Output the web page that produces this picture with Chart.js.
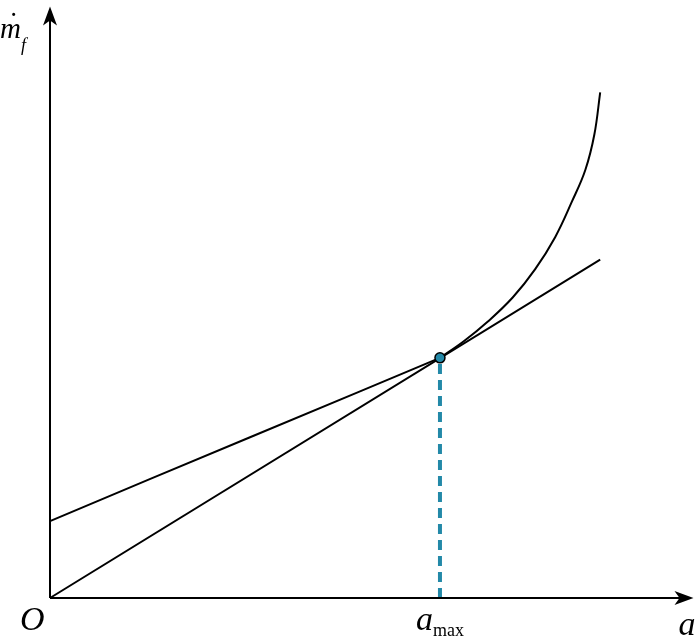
<!DOCTYPE html>
<html>
<head>
<meta charset="utf-8">
<script src="https://cdn.jsdelivr.net/npm/chart.js@4.4.1/dist/chart.umd.min.js"></script>
<style>
  html, body { margin: 0; padding: 0; background: #fff; }
  #wrap { width: 700px; height: 638px; }
</style>
</head>
<body>
<div id="wrap"><canvas id="chart" width="700" height="638"></canvas></div>
<script>
// fuel-rate curve (x = a, y = m_f)
const curveX = [0, 1.55, 3.09, 4.79, 6.06, 6.43, 6.80, 7.19, 7.54, 7.85, 8.11, 8.32, 8.46, 8.55];
const curveY = [1.30, 2.01, 2.71, 3.48, 4.06, 4.34, 4.67, 5.08, 5.56, 6.10, 6.70, 7.24, 7.84, 8.55];

// tangent line from the origin
const tangentX = [0, 8.55];
const tangentY = [0, 5.72];

// tangent point a_max
const aMax = 6.06;
const aMaxY = 4.06;

const teal = '#2389a8';

function pts(xs, ys) {
  return xs.map((x, i) => ({ x: x, y: ys[i] }));
}

// the curve is nearly straight up to a_max, then bends upward
const curvePts = pts(curveX, curveY);
const kink = curveX.indexOf(aMax);

// axes with arrows + math labels
const axesPlugin = {
  id: 'axesPlugin',
  afterDraw(chart) {
    const ctx = chart.ctx;
    const sx = chart.scales.x, sy = chart.scales.y;
    const x0 = sx.getPixelForValue(0), y0 = sy.getPixelForValue(0);
    const xEnd = sx.getPixelForValue(10), yEnd = sy.getPixelForValue(10);
    ctx.save();
    ctx.strokeStyle = '#000';
    ctx.fillStyle = '#000';
    ctx.lineWidth = 2;
    ctx.beginPath();
    ctx.moveTo(x0, y0);
    ctx.lineTo(x0, yEnd + 10);
    ctx.moveTo(x0, y0);
    ctx.lineTo(xEnd - 10, y0);
    ctx.stroke();
    // arrow heads
    ctx.beginPath();
    ctx.moveTo(x0, yEnd);
    ctx.lineTo(x0 - 7, yEnd + 19);
    ctx.lineTo(x0, yEnd + 14);
    ctx.lineTo(x0 + 7, yEnd + 19);
    ctx.closePath();
    ctx.fill();
    ctx.beginPath();
    ctx.moveTo(xEnd, y0);
    ctx.lineTo(xEnd - 19, y0 - 7);
    ctx.lineTo(xEnd - 14, y0);
    ctx.lineTo(xEnd - 19, y0 + 7);
    ctx.closePath();
    ctx.fill();

    // labels
    const serif = '"Liberation Serif", "DejaVu Serif", serif';
    ctx.textBaseline = 'alphabetic';
    ctx.textAlign = 'left';
    ctx.font = 'italic 34px ' + serif;
    ctx.fillText('O', x0 - 30, y0 + 32);
    ctx.fillText('a', xEnd - 15, y0 + 37);
    const am = sx.getPixelForValue(aMax);
    ctx.fillText('a', am - 24, y0 + 32);
    ctx.font = '18px ' + serif;
    ctx.fillText('max', am - 7, y0 + 38);
    ctx.font = 'italic 29px ' + serif;
    ctx.fillText('m', 0, 38);
    ctx.fillText('\u02D9', 7, 33);
    ctx.font = 'italic 18px ' + serif;
    ctx.fillText('f', 21, 51);
    ctx.restore();
  }
};

new Chart(document.getElementById('chart'), {
  type: 'scatter',
  data: {
    datasets: [
      {
        label: 'point',
        data: [{ x: aMax, y: aMaxY }],
        pointRadius: 5,
        pointBackgroundColor: teal,
        pointBorderColor: '#000',
        pointBorderWidth: 1.5,
        showLine: false
      },
      {
        label: 'curve low',
        data: curvePts.slice(0, kink + 1),
        showLine: true,
        borderColor: '#000',
        borderWidth: 2,
        pointRadius: 0,
        tension: 0
      },
      {
        label: 'curve high',
        data: curvePts.slice(kink),
        showLine: true,
        borderColor: '#000',
        borderWidth: 2,
        pointRadius: 0,
        tension: 0.4
      },
      {
        label: 'tangent',
        data: pts(tangentX, tangentY),
        showLine: true,
        borderColor: '#000',
        borderWidth: 2,
        pointRadius: 0
      },
      {
        label: 'drop',
        data: [{ x: aMax, y: 0 }, { x: aMax, y: aMaxY }],
        showLine: true,
        borderColor: teal,
        borderWidth: 4,
        borderDash: [10, 6],
        pointRadius: 0
      }
    ]
  },
  options: {
    responsive: false,
    animation: false,
    clip: false,
    layout: { padding: { left: 50, right: 3, top: 0, bottom: 40 } },
    plugins: { legend: { display: false }, tooltip: { enabled: false } },
    scales: {
      x: { type: 'linear', min: 0, max: 10, display: false },
      y: { type: 'linear', min: 0, max: 10, display: false }
    }
  },
  plugins: [axesPlugin]
});
</script>
</body>
</html>
